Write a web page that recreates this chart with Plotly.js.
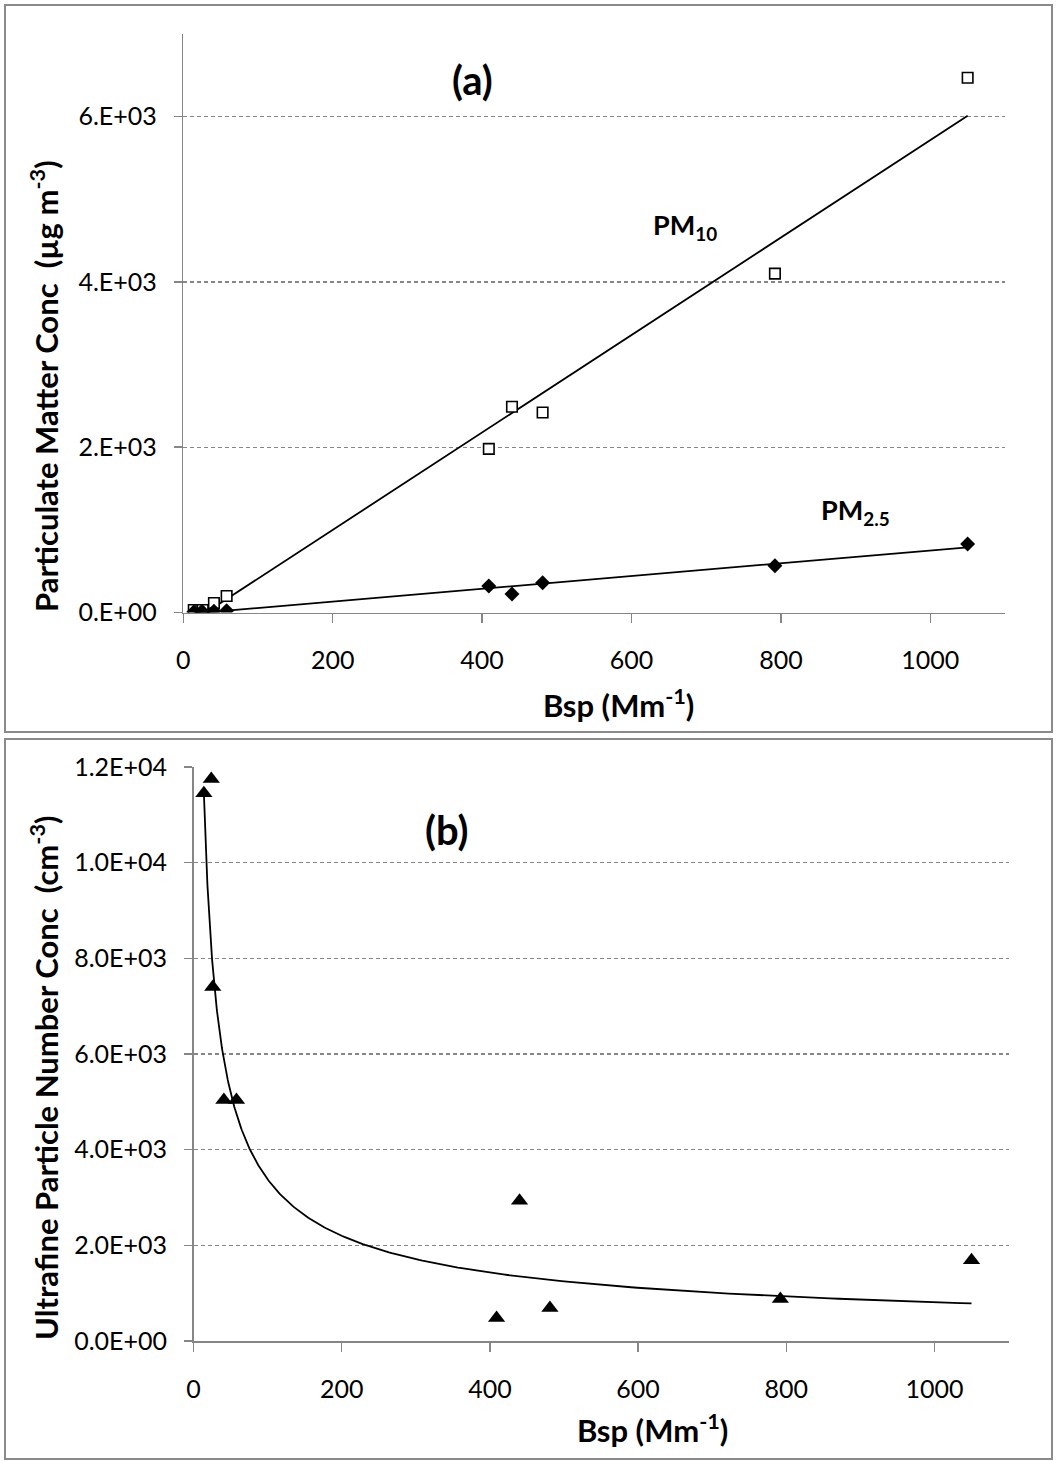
<!DOCTYPE html>
<html>
<head>
<meta charset="utf-8">
<script src="https://cdn.plot.ly/plotly-3.0.1.min.js"></script>
<style>
  html, body { margin: 0; padding: 0; background: #fff; }
  #chart { width: 1057px; height: 1461px; }
</style>
</head>
<body>
<div id="chart"></div>
<script>
// Light-scattering coefficient of each sample (Mm^-1)
const bsp = [14, 24, 26, 41, 58, 409, 440, 481, 792, 1050];
// Particulate mass concentrations (µg m^-3)
const pm10 = [30, 30, 30, 115, 200, 1980, 2490, 2420, 4100, 6470];
const pm25 = [5, 5, 5, 15, 20, 320, 225, 360, 565, 830];
// Ultrafine particle number concentration (cm^-3)
const ufp = [11450, 11750, 7400, 5040, 5040, 480, 2930, 690, 880, 1690];

// Axis ticks
const bspTicks = [0, 200, 400, 600, 800, 1000];
const massTickVals = [0, 2000, 4000, 6000];
const massTickText = ['0.E+00', '2.E+03', '4.E+03', '6.E+03'];
const ufpTickVals = [0, 2000, 4000, 6000, 8000, 10000, 12000];
const ufpTickText = ['0.0E+00', '2.0E+03', '4.0E+03', '6.0E+03', '8.0E+03', '1.0E+04', '1.2E+04'];

// Least-squares straight line y = a + b x
function linearFit(x, y) {
  const n = x.length;
  const mx = x.reduce((s, v) => s + v, 0) / n;
  const my = y.reduce((s, v) => s + v, 0) / n;
  let sxy = 0, sxx = 0;
  for (let i = 0; i < n; i++) { sxy += (x[i] - mx) * (y[i] - my); sxx += (x[i] - mx) ** 2; }
  const b = sxy / sxx;
  return { a: my - b * mx, b: b };
}
// Power-law fit y = A x^k from a regression in log-log space
function powerFit(x, y) {
  const f = linearFit(x.map(Math.log), y.map(Math.log));
  return { A: Math.exp(f.a), k: f.b };
}

const xMin = Math.min(...bsp), xMax = Math.max(...bsp);

function linearLine(y) {
  const f = linearFit(bsp, y);
  return { x: [xMin, xMax], y: [f.a + f.b * xMin, f.a + f.b * xMax] };
}
function powerCurve(y) {
  const f = powerFit(bsp, y);
  const xs = [], ys = [];
  const steps = 300;
  for (let i = 0; i <= steps; i++) {
    const xv = xMin * Math.pow(xMax / xMin, i / steps);
    xs.push(xv); ys.push(f.A * Math.pow(xv, f.k));
  }
  return { x: xs, y: ys };
}

const pm10Line = linearLine(pm10);
const pm25Line = linearLine(pm25);
const ufpCurve = powerCurve(ufp);

const traces = [
  { x: pm10Line.x, y: pm10Line.y, xaxis: 'x', yaxis: 'y', mode: 'lines',
    line: { color: '#000', width: 1.8 }, hoverinfo: 'skip' },
  { x: pm25Line.x, y: pm25Line.y, xaxis: 'x', yaxis: 'y', mode: 'lines',
    line: { color: '#000', width: 1.8 }, hoverinfo: 'skip' },
  { x: bsp, y: pm10, xaxis: 'x', yaxis: 'y', mode: 'markers', name: 'PM10',
    marker: { symbol: 'square', size: 10.5, color: '#fff', line: { color: '#000', width: 1.6 } } },
  { x: bsp, y: pm25, xaxis: 'x', yaxis: 'y', mode: 'markers', name: 'PM2.5',
    marker: { symbol: 'diamond', size: 11.5, color: '#000', line: { width: 0 } } },
  { x: ufpCurve.x, y: ufpCurve.y, xaxis: 'x2', yaxis: 'y2', mode: 'lines',
    line: { color: '#000', width: 1.8 }, hoverinfo: 'skip' },
  { x: bsp, y: ufp, xaxis: 'x2', yaxis: 'y2', mode: 'markers', name: 'UFP',
    marker: { symbol: 'triangle-up', size: 15, color: '#000', line: { width: 0 } } }
];

const W = 1057, H = 1461;
const fx = p => p / W;
const fy = p => 1 - p / H;

const axisGray = '#868686';
const gridGray = '#868686';

const xBase = {
  range: [0, 1100], tickvals: bspTicks, showgrid: false, zeroline: false,
  showline: true, linecolor: axisGray, linewidth: 1.5,
  ticks: 'outside', ticklen: 9, tickwidth: 1.5, tickcolor: axisGray,
  ticklabelstandoff: 16, tickfont: { size: 25 }
};
const yBase = {
  zeroline: false, showline: true, linecolor: axisGray, linewidth: 1.5,
  ticks: 'outside', ticklen: 8, tickwidth: 1.5, tickcolor: axisGray,
  showgrid: true, gridcolor: gridGray, gridwidth: 1.2, griddash: '4px,3px',
  ticklabelstandoff: 12, tickfont: { size: 25 }
};

const ann = (x, y, text, size, angle) => ({
  xref: 'paper', yref: 'paper', x: fx(x), y: fy(y), text: text, showarrow: false,
  xanchor: 'center', yanchor: 'middle', textangle: angle || 0,
  font: { family: 'Lato, sans-serif', size: size, color: '#000' }
});

const layout = {
  width: W, height: H,
  margin: { l: 0, r: 0, t: 0, b: 0 },
  paper_bgcolor: '#fff', plot_bgcolor: '#fff',
  showlegend: false,
  font: { family: 'Lato, sans-serif', size: 25, color: '#000' },
  xaxis: Object.assign({}, xBase, { domain: [fx(183.3), fx(1005)], anchor: 'y' }),
  yaxis: Object.assign({}, yBase, { domain: [fy(612.5), fy(34)], anchor: 'x', range: [0, 7000],
    tickvals: massTickVals, ticktext: massTickText }),
  xaxis2: Object.assign({}, xBase, { domain: [fx(193.5), fx(1008.6)], anchor: 'y2' }),
  yaxis2: Object.assign({}, yBase, { domain: [fy(1341), fy(767)], anchor: 'x2', range: [0, 12000],
    tickvals: ufpTickVals, ticktext: ufpTickText }),
  shapes: [
    { type: 'rect', xref: 'paper', yref: 'paper', x0: fx(5), x1: fx(1052), y0: fy(732), y1: fy(5),
      line: { color: '#8a8a8a', width: 2 }, fillcolor: 'rgba(0,0,0,0)', layer: 'below' },
    { type: 'rect', xref: 'paper', yref: 'paper', x0: fx(5), x1: fx(1052), y0: fy(1459), y1: fy(739),
      line: { color: '#8a8a8a', width: 2 }, fillcolor: 'rgba(0,0,0,0)', layer: 'below' }
  ],
  annotations: [
    ann(472, 80, '<b>(a)</b>', 40),
    ann(685, 226, '<b>PM<sub>10</sub></b>', 27),
    ann(855, 512, '<b>PM<sub>2.5</sub></b>', 27),
    ann(44, 386, '<b>Particulate Matter Conc&nbsp; (µg m<sup>-3</sup>)</b>', 31, -90),
    ann(618, 703, '<b>Bsp (Mm<sup>-1</sup>)</b>', 31),
    ann(447, 830, '<b>(b)</b>', 40),
    ann(44, 1078, '<b>Ultrafine Particle Number Conc&nbsp; (cm<sup>-3</sup>)</b>', 31, -90),
    ann(652, 1428, '<b>Bsp (Mm<sup>-1</sup>)</b>', 31)
  ]
};

Plotly.newPlot('chart', traces, layout, { staticPlot: true, displayModeBar: false });
</script>
</body>
</html>
